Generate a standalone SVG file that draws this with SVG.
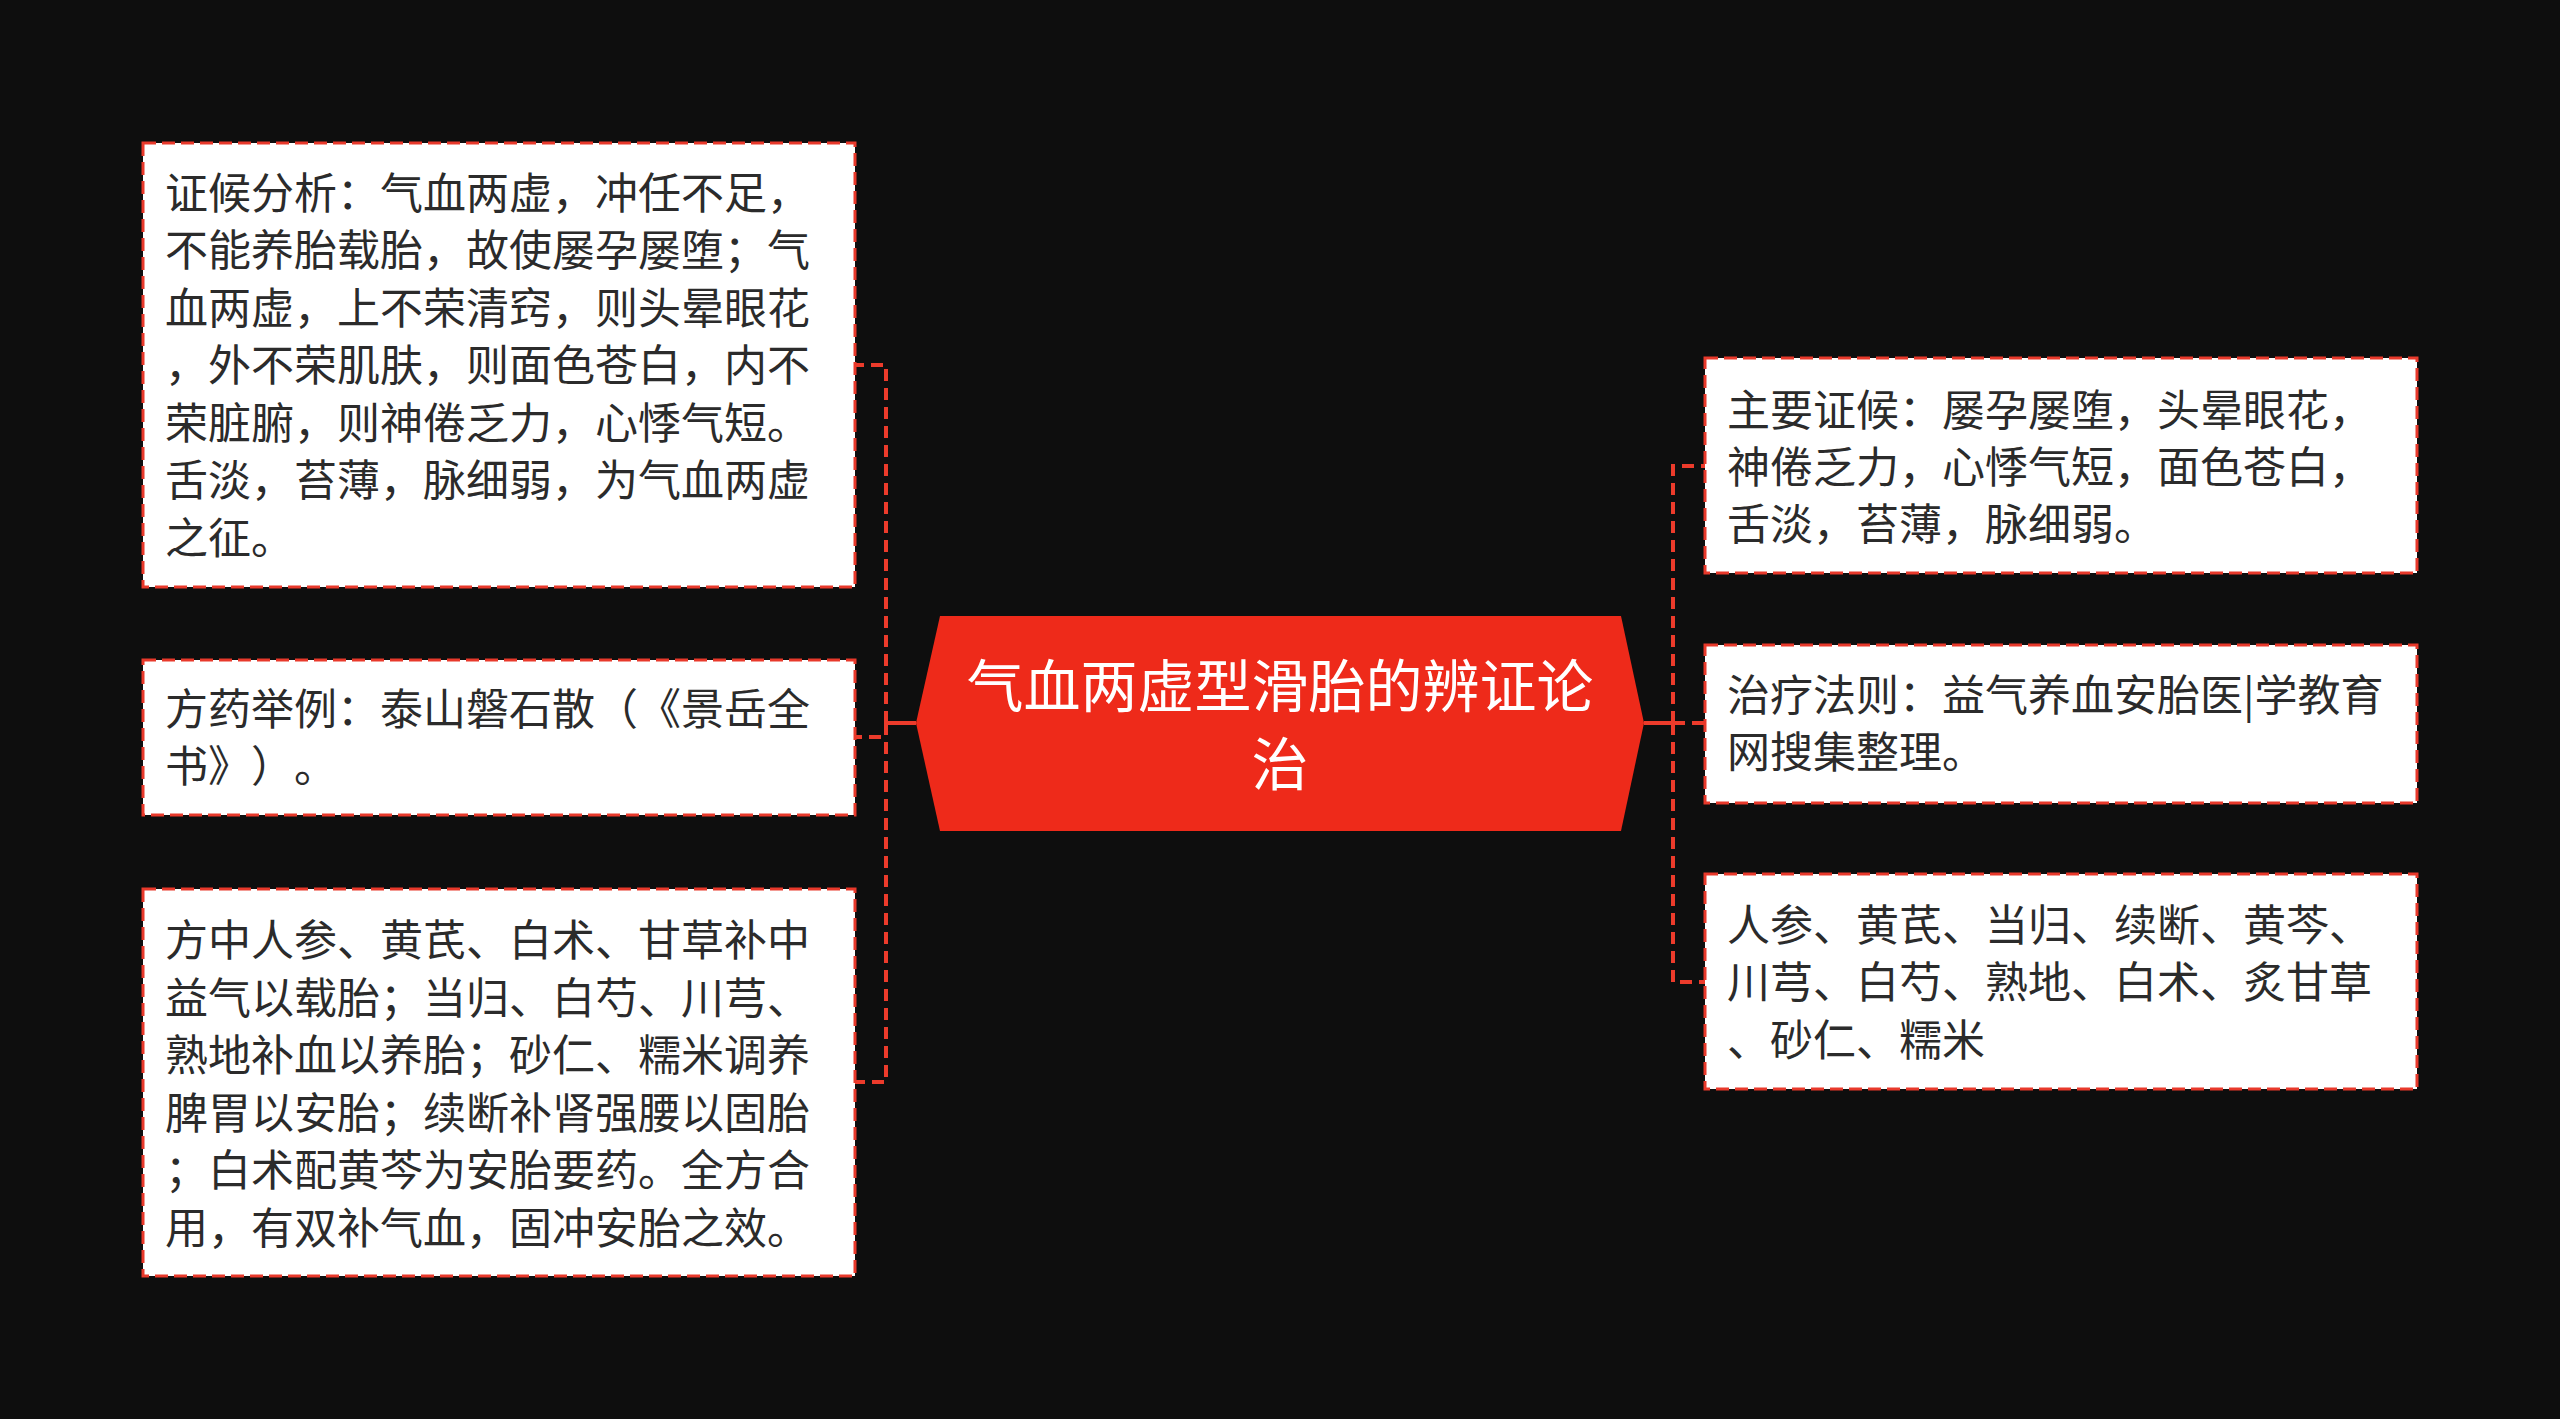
<svg xmlns="http://www.w3.org/2000/svg" width="2560" height="1419" viewBox="0 0 2560 1419">
<style>
.box{fill:#ffffff;stroke:#e8392b;stroke-width:3;stroke-dasharray:13 6;}
.txt{font-family:"Noto Sans CJK SC","Noto Sans",sans-serif;font-size:43px;fill:#2b2b2b;text-spacing-trim:space-all;font-feature-settings:"chws" 0,"halt" 0;}
.ctxt{font-family:"Noto Sans CJK SC","Noto Sans",sans-serif;font-size:57px;fill:#ffffff;text-anchor:middle;}
.conn{fill:none;stroke:#ec3b2b;stroke-width:4;stroke-dasharray:12 7;}
.solid{fill:none;stroke:#ec3b2b;stroke-width:4;}
</style>
<rect x="0" y="0" width="2560" height="1419" fill="#0e0e0e"/>
<g id="connectors">
<path class="solid" d="M916 723 H886"/>
<path class="conn" d="M886 723 V365 H855"/>
<path class="conn" d="M886 723 V737 H855"/>
<path class="conn" d="M886 723 V1082 H855"/>
<path class="solid" d="M1644 723 H1673"/>
<path class="conn" d="M1673 723 V466 H1705"/>
<path class="conn" d="M1673 723 H1705"/>
<path class="conn" d="M1673 723 V982 H1705"/>
</g>
<g id="center">
<polygon points="940,616 1621,616 1644,723 1621,831 940,831 916,723" fill="#ee2a1a"/>
<text class="ctxt" x="1280" y="707">气血两虚型滑胎的辨证论</text>
<text class="ctxt" x="1280" y="785">治</text>
</g>
<g id="node-l1">
<rect class="box" x="143" y="143" width="712" height="444"/>
<text class="txt" x="165" y="209">证候分析：气血两虚，冲任不足，</text>
<text class="txt" x="165" y="266">不能养胎载胎，故使屡孕屡堕；气</text>
<text class="txt" x="165" y="324">血两虚，上不荣清窍，则头晕眼花</text>
<text class="txt" x="165" y="381">，外不荣肌肤，则面色苍白，内不</text>
<text class="txt" x="165" y="439">荣脏腑，则神倦乏力，心悸气短。</text>
<text class="txt" x="165" y="496">舌淡，苔薄，脉细弱，为气血两虚</text>
<text class="txt" x="165" y="554">之征。</text>
</g>
<g id="node-l2">
<rect class="box" x="143" y="660" width="712" height="155"/>
<text class="txt" x="165" y="725">方药举例：泰山磐石散（《景岳全</text>
<text class="txt" x="165" y="782">书》）。</text>
</g>
<g id="node-l3">
<rect class="box" x="143" y="889" width="712" height="387"/>
<text class="txt" x="165" y="956">方中人参、黄芪、白术、甘草补中</text>
<text class="txt" x="165" y="1014">益气以载胎；当归、白芍、川芎、</text>
<text class="txt" x="165" y="1071">熟地补血以养胎；砂仁、糯米调养</text>
<text class="txt" x="165" y="1129">脾胃以安胎；续断补肾强腰以固胎</text>
<text class="txt" x="165" y="1186">；白术配黄芩为安胎要药。全方合</text>
<text class="txt" x="165" y="1244">用，有双补气血，固冲安胎之效。</text>
</g>
<g id="node-r1">
<rect class="box" x="1705" y="358" width="712" height="215"/>
<text class="txt" x="1727" y="426">主要证候：屡孕屡堕，头晕眼花，</text>
<text class="txt" x="1727" y="483">神倦乏力，心悸气短，面色苍白，</text>
<text class="txt" x="1727" y="540">舌淡，苔薄，脉细弱。</text>
</g>
<g id="node-r2">
<rect class="box" x="1705" y="645" width="712" height="158"/>
<text class="txt" x="1727" y="711">治疗法则：益气养血安胎医|学教育</text>
<text class="txt" x="1727" y="768">网搜集整理。</text>
</g>
<g id="node-r3">
<rect class="box" x="1705" y="874" width="712" height="215"/>
<text class="txt" x="1727" y="941">人参、黄芪、当归、续断、黄芩、</text>
<text class="txt" x="1727" y="998">川芎、白芍、熟地、白术、炙甘草</text>
<text class="txt" x="1727" y="1056">、砂仁、糯米</text>
</g>
</svg>
